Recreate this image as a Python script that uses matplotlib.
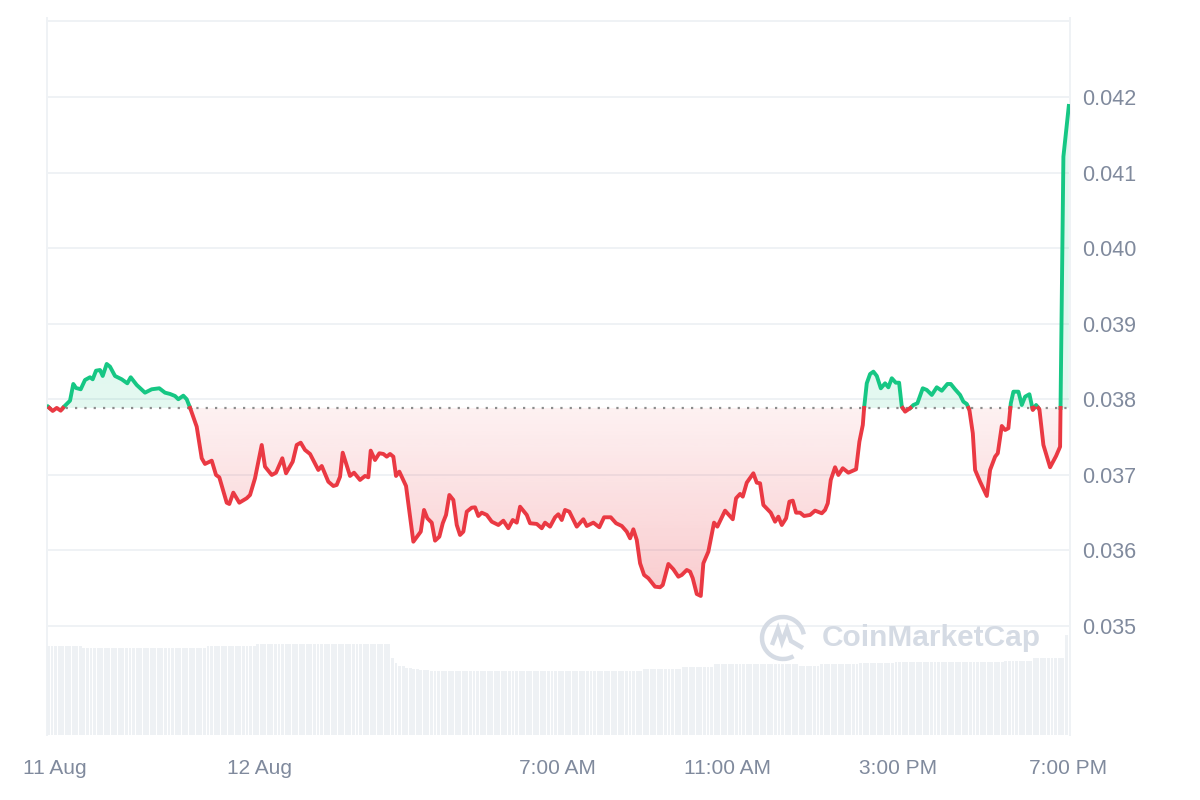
import numpy as np
import matplotlib.pyplot as plt
from matplotlib.path import Path
from matplotlib.patches import PathPatch, Arc
import matplotlib.transforms as mtransforms

plt.rcParams['font.family'] = ['Liberation Sans', 'DejaVu Sans']

# hours since 11 Aug 19:00
hours = [0.024, 0.134, 0.228, 0.322, 0.400, 0.541, 0.618, 0.682, 0.792, 0.893,
         1.010, 1.074, 1.152, 1.246, 1.309, 1.403, 1.481, 1.598, 1.756, 1.887,
         1.967, 2.108, 2.303, 2.461, 2.639, 2.773, 2.891, 3.008, 3.086, 3.203,
         3.283, 3.361, 3.518, 3.636, 3.713, 3.871, 3.972, 4.049, 4.223, 4.284,
         4.378, 4.519, 4.693, 4.771, 4.888, 5.046, 5.123, 5.281, 5.382, 5.530,
         5.617, 5.774, 5.868, 5.962, 6.063, 6.181, 6.376, 6.456, 6.611, 6.729,
         6.808, 6.886, 6.949, 7.121, 7.215, 7.356, 7.474, 7.551, 7.607, 7.708,
         7.810, 7.904, 7.984, 8.061, 8.139, 8.202, 8.280, 8.437, 8.609, 8.783,
         8.860, 8.938, 9.041, 9.119, 9.220, 9.300, 9.377, 9.455, 9.549, 9.629,
         9.706, 9.784, 9.864, 9.981, 10.059, 10.136, 10.216, 10.334, 10.451, 10.607,
         10.724, 10.841, 10.945, 11.039, 11.117, 11.274, 11.351, 11.509, 11.626, 11.704,
         11.821, 11.939, 12.016, 12.096, 12.174, 12.275, 12.449, 12.604, 12.684, 12.839,
         12.980, 13.091, 13.248, 13.373, 13.507, 13.624, 13.702, 13.779, 13.859, 13.937,
         14.031, 14.132, 14.289, 14.407, 14.470, 14.602, 14.719, 14.837, 14.917, 15.034,
         15.112, 15.175, 15.269, 15.363, 15.424, 15.541, 15.675, 15.753, 15.934, 16.115,
         16.193, 16.287, 16.350, 16.444, 16.599, 16.679, 16.757, 16.834, 17.008, 17.109,
         17.187, 17.267, 17.368, 17.446, 17.525, 17.603, 17.697, 17.791, 17.932, 18.049,
         18.207, 18.284, 18.348, 18.418, 18.519, 18.597, 18.700, 18.832, 19.013, 19.091,
         19.171, 19.201, 19.264, 19.342, 19.420, 19.500, 19.594, 19.695, 19.772, 19.852,
         19.946, 20.024, 20.087, 20.165, 20.282, 20.360, 20.454, 20.580, 20.674, 20.792,
         20.909, 21.027, 21.159, 21.238, 21.339, 21.457, 21.535, 21.615, 21.676, 21.756,
         21.810, 21.927, 22.085, 22.162, 22.280, 22.343, 22.437, 22.515, 22.592, 22.649,
         22.710, 22.828, 22.907, 22.985, 23.086, 23.166, 23.243, 23.321, 23.415, 23.572,
         23.713, 23.807, 23.885, 24.012]

price = [0.037902, 0.037845, 0.037885, 0.037849, 0.037902, 0.037981, 0.038202, 0.038149, 0.038132, 0.038255,
         0.038291, 0.038264, 0.038378, 0.038387, 0.038308, 0.038467, 0.038431, 0.038308, 0.038264, 0.038211,
         0.038291, 0.038189, 0.038087, 0.038132, 0.038145, 0.038087, 0.038070, 0.038043, 0.038000, 0.038047,
         0.038000, 0.037889, 0.037637, 0.037219, 0.037144, 0.037187, 0.036998, 0.036967, 0.036631, 0.036614,
         0.036764, 0.036631, 0.036690, 0.036733, 0.036954, 0.037395, 0.037108, 0.036998, 0.037028, 0.037219,
         0.037020, 0.037174, 0.037395, 0.037425, 0.037329, 0.037276, 0.037064, 0.037117, 0.036909, 0.036852,
         0.036866, 0.036975, 0.037293, 0.036985, 0.037028, 0.036932, 0.036985, 0.036967, 0.037320, 0.037196,
         0.037285, 0.037276, 0.037240, 0.037276, 0.037240, 0.036985, 0.037042, 0.036852, 0.036115, 0.036248,
         0.036535, 0.036425, 0.036367, 0.036129, 0.036181, 0.036359, 0.036469, 0.036733, 0.036667, 0.036336,
         0.036204, 0.036248, 0.036512, 0.036565, 0.036570, 0.036455, 0.036499, 0.036469, 0.036380, 0.036336,
         0.036393, 0.036293, 0.036402, 0.036367, 0.036578, 0.036469, 0.036359, 0.036350, 0.036293, 0.036367,
         0.036314, 0.036438, 0.036478, 0.036402, 0.036535, 0.036512, 0.036314, 0.036412, 0.036323, 0.036367,
         0.036306, 0.036438, 0.036438, 0.036359, 0.036323, 0.036248, 0.036160, 0.036279, 0.036138, 0.035829,
         0.035675, 0.035631, 0.035520, 0.035512, 0.035542, 0.035820, 0.035750, 0.035652, 0.035675, 0.035741,
         0.035718, 0.035631, 0.035423, 0.035397, 0.035829, 0.035983, 0.036367, 0.036314, 0.036526, 0.036412,
         0.036690, 0.036747, 0.036711, 0.036896, 0.037020, 0.036896, 0.036888, 0.036601, 0.036499, 0.036380,
         0.036446, 0.036336, 0.036425, 0.036645, 0.036658, 0.036499, 0.036499, 0.036455, 0.036469, 0.036526,
         0.036491, 0.036535, 0.036623, 0.036932, 0.037100, 0.036998, 0.037087, 0.037028, 0.037073, 0.037439,
         0.037660, 0.037881, 0.038211, 0.038334, 0.038365, 0.038308, 0.038145, 0.038211, 0.038158, 0.038278,
         0.038219, 0.038219, 0.037902, 0.037836, 0.037881, 0.037924, 0.037947, 0.038145, 0.038123, 0.038057,
         0.038158, 0.038113, 0.038202, 0.038202, 0.038132, 0.038057, 0.037968, 0.037937, 0.037858, 0.037550,
         0.037064, 0.036909, 0.036720, 0.037064, 0.037240, 0.037285, 0.037646, 0.037593, 0.037616, 0.037947,
         0.038100, 0.038100, 0.037924, 0.038034, 0.038066, 0.037858, 0.037924, 0.037867, 0.037395, 0.037100,
         0.037249, 0.037372, 0.041210, 0.041881]

base_price = 0.037885

# rolling volume (5 min bars), as runs of equal height
vol_levels = [8.9, 8.7, 8.87, 9.1, 7.67, 7.23, 6.9, 6.67, 6.6, 6.5, 6.43,
              6.63, 6.83, 7.07, 6.9, 7.07, 7.23, 7.27, 7.43, 7.67, 10.0]
vol_counts = [10, 35, 14, 38, 1, 1, 2, 2, 2, 3, 60,
              11, 9, 24, 6, 11, 10, 31, 8, 9, 1]

xtick_pos = [0, 5, 12, 16, 20, 24]
xtick_labels = ['11 Aug', '12 Aug', '7:00 AM', '11:00 AM', '3:00 PM', '7:00 PM']
ytick_vals = [0.035, 0.036, 0.037, 0.038, 0.039, 0.040, 0.041, 0.042]
grid_vals = ytick_vals + [0.043]

GREEN = '#16c784'
RED = '#ea3943'
GRID = '#eff2f5'
LABEL = '#808a9d'


def split_at_base(x, y, base):
    xs, ys = [x[0]], [y[0]]
    for i in range(len(x) - 1):
        if (y[i] - base) * (y[i + 1] - base) < 0:
            t = (base - y[i]) / (y[i + 1] - y[i])
            xs.append(x[i] + t * (x[i + 1] - x[i]))
            ys.append(base)
        xs.append(x[i + 1])
        ys.append(y[i + 1])
    return np.array(xs), np.array(ys)


def gradient_fill(ax, poly, color, y0, y1, a0, a1, x0, x1):
    rgb = np.array(plt.matplotlib.colors.to_rgb(color))
    img = np.zeros((256, 1, 4))
    img[:, 0, :3] = rgb
    img[:, 0, 3] = np.linspace(a0, a1, 256)
    im = ax.imshow(img, aspect='auto', origin='lower', extent=[x0, x1, y0, y1],
                   zorder=1, interpolation='bilinear')
    paths = poly.get_paths()
    if paths:
        clip = PathPatch(Path.make_compound_path(*paths), transform=ax.transData,
                         facecolor='none', edgecolor='none')
        ax.add_patch(clip)
        im.set_clip_path(clip)


def main():
    fig = plt.figure(figsize=(12, 8), dpi=100)
    ax_vol = fig.add_axes([47 / 1200, 65 / 800, 1023 / 1200, 717 / 800])
    ax = ax_vol.twinx()

    # volume bars
    vol = np.repeat(vol_levels, vol_counts)
    vx = np.arange(len(vol)) / 12.0
    ax_vol.bar(vx, vol, width=1 / 12 * 0.82, align='edge', color='#eef1f4', linewidth=0)
    ax_vol.set_ylim(0, 71.7)
    ax_vol.set_yticks([])
    for s in ax_vol.spines.values():
        s.set_visible(False)

    xs, ps = split_at_base(hours, price, base_price)

    for g in grid_vals:
        ax.axhline(g, color=GRID, lw=1.4, zorder=0)

    up = ax.fill_between(xs, ps, base_price, where=ps >= base_price, interpolate=True,
                         color='none', linewidth=0)
    dn = ax.fill_between(xs, ps, base_price, where=ps <= base_price, interpolate=True,
                         color='none', linewidth=0)
    gradient_fill(ax, up, GREEN, base_price, max(price), 0.12, 0.14, 0, 24.04)
    gradient_fill(ax, dn, RED, min(price), base_price, 0.26, 0.07, 0, 24.04)

    ax.axhline(base_price, color='#8c8c8c', lw=1.6, ls=(0, (1, 3.2)), zorder=2)

    p_up = np.where(ps >= base_price, ps, np.nan)
    p_dn = np.where(ps <= base_price, ps, np.nan)
    ax.plot(xs, p_up, color=GREEN, lw=2.8, solid_joinstyle='round', zorder=3)
    ax.plot(xs, p_dn, color=RED, lw=2.8, solid_joinstyle='round', zorder=3)

    ax.set_xlim(0, 24.04)
    ax.set_ylim(0.033557, 0.043045)
    ax.set_yticks(ytick_vals)
    ax.set_yticklabels(['%.3f' % v for v in ytick_vals])
    ax.tick_params(axis='y', length=0, pad=8.5, labelsize=15.5, labelcolor=LABEL)

    ax_vol.set_xticks(xtick_pos)
    ax_vol.set_xticklabels(xtick_labels)
    ax_vol.tick_params(axis='x', length=0, pad=17, labelsize=15, labelcolor=LABEL)
    first = ax_vol.get_xticklabels()[0]
    first.set_transform(first.get_transform() +
                        mtransforms.ScaledTranslation(8 / 100, 0, fig.dpi_scale_trans))

    for name, s in ax.spines.items():
        if name in ('left', 'right'):
            s.set_color(GRID)
            s.set_linewidth(1.4)
        else:
            s.set_visible(False)

    # watermark
    wm = '#d5dbe4'
    fig.text(822 / 1200, 1 - 638 / 800, 'CoinMarketCap', ha='left', va='center',
             fontsize=21.5, fontweight='bold', color=wm, family='Liberation Sans')
    cx, cy = 7.83, 8 - 6.38
    fig.add_artist(Arc((cx, cy), 0.42, 0.42, theta1=10, theta2=300, lw=3.2, color=wm,
                       transform=fig.dpi_scale_trans))
    m_path = Path([(cx - 0.11, cy - 0.07), (cx - 0.05, cy + 0.09), (cx - 0.01, cy - 0.04),
                   (cx + 0.04, cy + 0.09), (cx + 0.08, cy - 0.03), (cx + 0.2, cy - 0.1)])
    fig.add_artist(PathPatch(m_path, facecolor='none', edgecolor=wm, lw=3.2,
                             transform=fig.dpi_scale_trans))

    fig.savefig('out.png', dpi=100, facecolor='white')


if __name__ == '__main__':
    main()
